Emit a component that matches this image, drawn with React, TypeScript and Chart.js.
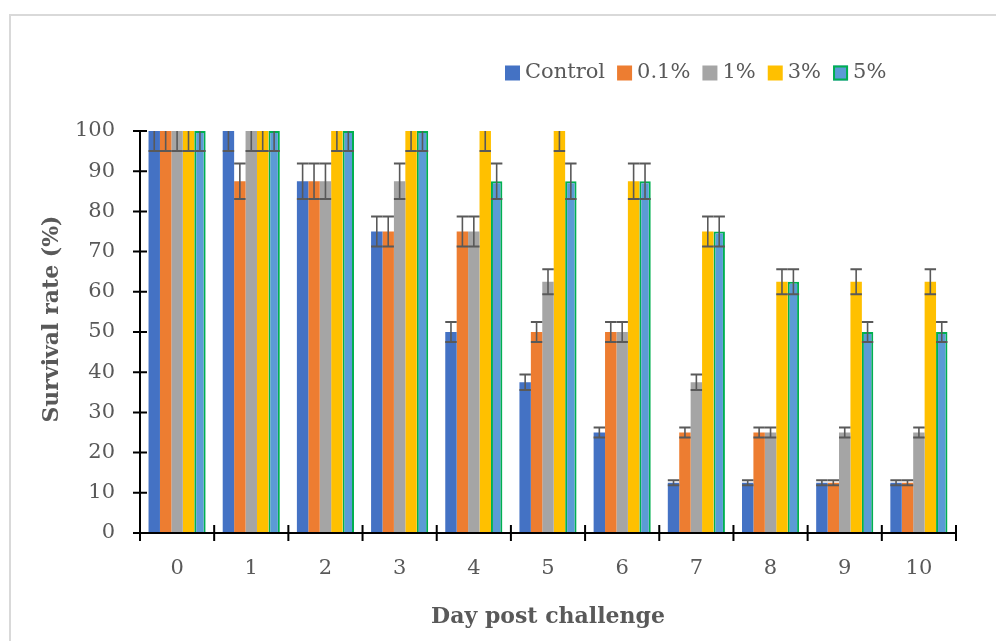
import React, { useEffect, useRef } from "react";
import { Chart, registerables } from "chart.js";

Chart.register(...registerables);

const days = ["0", "1", "2", "3", "4", "5", "6", "7", "8", "9", "10"];
const seriesNames = ["Control", "0.1%", "1%", "3%", "5%"];
const controlValues = [100, 100, 87.5, 75, 50, 37.5, 25, 12.5, 12.5, 12.5, 12.5];
const p01Values = [100, 87.5, 87.5, 75, 75, 50, 50, 25, 25, 12.5, 12.5];
const p1Values = [100, 100, 87.5, 87.5, 75, 62.5, 50, 37.5, 25, 25, 25];
const p3Values = [100, 100, 100, 100, 100, 100, 87.5, 75, 62.5, 62.5, 62.5];
const p5Values = [100, 100, 100, 100, 87.5, 87.5, 87.5, 75, 62.5, 50, 50];
const controlErr = [5, 5, 4.4, 3.75, 2.5, 1.9, 1.25, 0.65, 0.65, 0.65, 0.65];
const p01Err = [5, 4.4, 4.4, 3.75, 3.75, 2.5, 2.5, 1.25, 1.25, 0.65, 0.65];
const p1Err = [5, 5, 4.4, 4.4, 3.75, 3.1, 2.5, 1.9, 1.25, 1.25, 1.25];
const p3Err = [5, 5, 5, 5, 5, 5, 4.4, 3.75, 3.1, 3.1, 3.1];
const p5Err = [5, 5, 5, 5, 4.4, 4.4, 4.4, 3.75, 3.1, 2.5, 2.5];
const yTicks = [0, 10, 20, 30, 40, 50, 60, 70, 80, 90, 100];
const yTitle = "Survival rate (%)";
const xTitle = "Day post challenge";

const fills = ["#4472C4", "#ED7D31", "#A5A5A5", "#FFC000", "#5B9BD5"];
const borders = ["#4472C4", "#ED7D31", "#A5A5A5", "#FFC000", "#00B050"];
const errors = [controlErr, p01Err, p1Err, p3Err, p5Err];
const values = [controlValues, p01Values, p1Values, p3Values, p5Values];

const FONT = "'DejaVu Serif', serif";
const TEXT = "#595959";

const framePlugin = {
  id: "frame",
  beforeDraw(chart: any) {
    const ctx = chart.ctx;
    ctx.save();
    ctx.fillStyle = "#ffffff";
    ctx.fillRect(0, 0, chart.width, chart.height);
    ctx.strokeStyle = "#D9D9D9";
    ctx.lineWidth = 2;
    ctx.strokeRect(10, 15, chart.width + 20, chart.height + 20);
    ctx.restore();
  },
};

const errorPlugin = {
  id: "errbars",
  afterDatasetsDraw(chart: any) {
    const ctx = chart.ctx;
    const ys = chart.scales.y;
    const area = chart.chartArea;
    ctx.save();
    ctx.beginPath();
    ctx.rect(area.left - 20, area.top, area.right - area.left + 40, area.bottom - area.top + 20);
    ctx.clip();
    ctx.strokeStyle = "#595959";
    chart.data.datasets.forEach((ds: any, i: number) => {
      const meta = chart.getDatasetMeta(i);
      meta.data.forEach((el: any, j: number) => {
        const v = ds.data[j];
        const e = errors[i][j];
        const yt = ys.getPixelForValue(v + e);
        const yb = ys.getPixelForValue(v - e);
        const w = el.width;
        ctx.lineWidth = 1.6;
        ctx.beginPath();
        ctx.moveTo(el.x, yt);
        ctx.lineTo(el.x, yb);
        ctx.stroke();
        ctx.lineWidth = 2;
        ctx.beginPath();
        ctx.moveTo(el.x - w / 2, yt);
        ctx.lineTo(el.x + w / 2, yt);
        ctx.moveTo(el.x - w / 2, yb);
        ctx.lineTo(el.x + w / 2, yb);
        ctx.stroke();
      });
    });
    ctx.restore();
  },
  afterDraw(chart: any) {
    const ctx = chart.ctx;
    const area = chart.chartArea;
    const ys = chart.scales.y;
    const xs = chart.scales.x;
    ctx.save();
    ctx.strokeStyle = "#000000";
    ctx.lineWidth = 2;
    ctx.beginPath();
    ctx.moveTo(area.left, area.top);
    ctx.lineTo(area.left, area.bottom);
    ctx.moveTo(area.left, area.bottom);
    ctx.lineTo(area.right, area.bottom);
    yTicks.forEach((t) => {
      const y = ys.getPixelForValue(t);
      ctx.moveTo(area.left - 7, y);
      ctx.lineTo(area.left + 7, y);
    });
    const n = days.length;
    const step = (area.right - area.left) / n;
    for (let k = 0; k <= n; k++) {
      const x = xs.getPixelForValue(0) - step / 2 + k * step;
      ctx.moveTo(x, area.bottom - 8);
      ctx.lineTo(x, area.bottom + 8);
    }
    ctx.stroke();

    // y axis title
    ctx.save();
    ctx.translate(52, 319);
    ctx.rotate(-Math.PI / 2);
    ctx.font = `bold 22px ${FONT}`;
    ctx.fillStyle = TEXT;
    ctx.textAlign = "center";
    ctx.textBaseline = "middle";
    ctx.fillText(yTitle, 0, 0);
    ctx.restore();

    // legend
    ctx.font = `21px ${FONT}`;
    ctx.textBaseline = "middle";
    ctx.textAlign = "left";
    let x = 505;
    const yc = 73;
    seriesNames.forEach((name, i) => {
      ctx.fillStyle = fills[i];
      ctx.fillRect(x, yc - 7.5, 15, 15);
      if (i === 4) {
        ctx.strokeStyle = borders[i];
        ctx.lineWidth = 2;
        ctx.strokeRect(x + 1, yc - 6.5, 13, 13);
      }
      x += 20;
      ctx.fillStyle = TEXT;
      ctx.fillText(name, x, yc);
      x += ctx.measureText(name).width + 12;
    });
    ctx.restore();
  },
};

export default function App() {
  const ref = useRef<HTMLCanvasElement | null>(null);
  useEffect(() => {
    if (!ref.current) return;
    const chart = new Chart(ref.current, {
      type: "bar",
      data: {
        labels: days,
        datasets: seriesNames.map((name, i) => ({
          label: name,
          data: values[i],
          backgroundColor: fills[i],
          borderColor: borders[i],
          borderWidth: i === 4 ? 2 : 0,
          categoryPercentage: 0.77,
          barPercentage: 1.0,
        })),
      },
      options: {
        animation: false,
        responsive: false,
        devicePixelRatio: 1,
        layout: { padding: { top: 131, right: 40, bottom: 0, left: 0 } },
        plugins: {
          legend: { display: false },
          tooltip: { enabled: false },
        },
        scales: {
          x: {
            grid: { display: false, drawTicks: false },
            border: { display: false },
            ticks: { color: TEXT, font: { family: FONT, size: 21 }, padding: 23 },
            title: {
              display: true,
              text: xTitle,
              color: TEXT,
              font: { family: FONT, size: 22, weight: "bold" },
              padding: { top: 0, bottom: 11 },
            },
            afterFit: (s: any) => {
              s.height = 108;
            },
          },
          y: {
            min: 0,
            max: 100,
            grid: { display: false, drawTicks: false },
            border: { display: false },
            ticks: {
              stepSize: 10,
              color: TEXT,
              font: { family: FONT, size: 21 },
              padding: 25,
            },
            title: { display: false },
            afterFit: (s: any) => {
              s.width = 140;
            },
          },
        },
      } as any,
      plugins: [framePlugin, errorPlugin],
    });
    return () => chart.destroy();
  }, []);
  return (
    <div style={{ position: "fixed", left: 0, top: 0, width: 996, height: 641, background: "#fff" }}>
      <canvas ref={ref} width={996} height={641} style={{ display: "block" }} />
    </div>
  );
}
